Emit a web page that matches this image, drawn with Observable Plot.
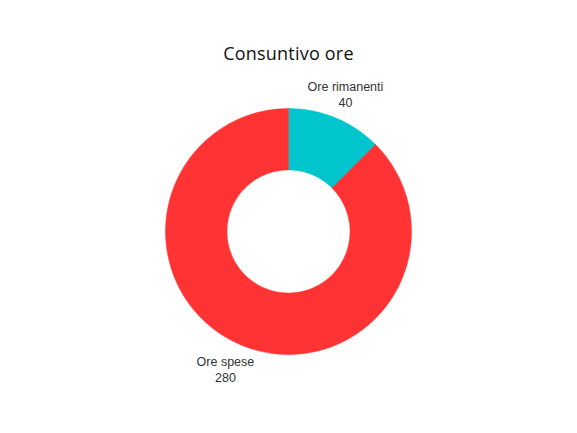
<!DOCTYPE html>
<html><head><meta charset="utf-8">
<script src="https://cdn.jsdelivr.net/npm/d3@7"></script>
<script src="https://cdn.jsdelivr.net/npm/@observablehq/plot@0.6"></script>
<style>
body{margin:0;background:#fff;}
#wrap{position:relative;width:577px;height:433px;}
#title{position:absolute;left:0;top:41px;width:577px;text-align:center;font-family:"Open Sans",Lato,sans-serif;font-size:18px;font-weight:500;color:#111;letter-spacing:0.2px;}
#chart{position:absolute;left:0;top:0;}
</style></head>
<body>
<div id="wrap"><div id="chart"></div><div id="title">Consuntivo ore</div></div>
<script>
const categories = ["Ore rimanenti", "Ore spese"];
const values = [40, 280];
const colors = ["#00C5CD", "#FF3333"];

const pie = d3.pie().sort(null).value(d => d.value)(categories.map((c, i) => ({label: c, value: values[i], color: colors[i]})));
const inner = 0.5, outer = 1;
const polys = [];
pie.forEach(s => {
  const n = 120;
  const pts = [];
  for (let k = 0; k <= n; k++) { const a = s.startAngle + (s.endAngle - s.startAngle) * k / n; pts.push([outer * Math.sin(a), outer * Math.cos(a)]); }
  for (let k = n; k >= 0; k--) { const a = s.startAngle + (s.endAngle - s.startAngle) * k / n; pts.push([inner * Math.sin(a), inner * Math.cos(a)]); }
  pts.push(pts[0]);
  pts.forEach(p => polys.push({x: p[0], y: p[1], label: s.data.label, color: s.data.color}));
});
const labels = pie.map(s => { const a = (s.startAngle + s.endAngle) / 2; const sx = Math.sin(a); return {x: 1.21 * sx + (sx < 0 ? -0.05 : 0), y: 1.21 * Math.cos(a), text: s.data.label + "\n" + s.data.value}; });

const chart = Plot.plot({
  width: 577, height: 433, margin: 0,
  x: {domain: [-1, 1], range: [165, 411], axis: null},
  y: {domain: [-1, 1], range: [354, 108], axis: null},
  marks: [
    Plot.line(polys, {x: "x", y: "y", z: "label", fill: "color", stroke: "color", strokeWidth: 0.5, curve: "linear"}),
    Plot.text(labels, {x: "x", y: "y", text: "text", fontSize: 12.5, fill: "#333", lineHeight: 1.25, fontFamily: "Liberation Sans, Arial, sans-serif"})
  ]
});
document.getElementById("chart").appendChild(chart);
</script>
</body></html>
